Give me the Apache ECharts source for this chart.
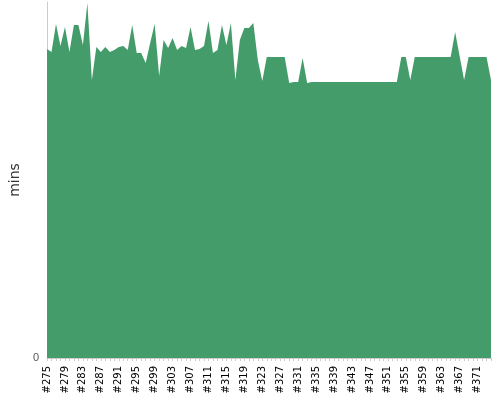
<!DOCTYPE html>
<html>
<head>
<meta charset="utf-8">
<script src="https://cdn.jsdelivr.net/npm/echarts@6/dist/echarts.min.js"></script>
<style>html,body{margin:0;padding:0}#chart{width:500px;height:400px}</style>
</head>
<body>
<div id="chart"></div>
<script>
// build #275 .. #374
const categories = []
for (let n = 275; n <= 374; n++) categories.push('#' + n)

// values
const mins = [
  309, 306, 334, 312, 331, 306, 333, 333, 313, 355,
  278, 311, 306, 311, 306, 308, 311, 312, 308, 333,
  305, 305, 295, 315, 334, 282, 318, 310, 320, 308,
  312, 310, 331, 308, 309, 312, 337, 305, 308, 333,
  313, 335, 278, 318, 330, 330, 335, 298, 277, 301,
  301, 301, 301, 301, 275, 276, 276, 300, 275, 276,
  276, 276, 276, 276, 276, 276, 276, 276, 276, 276,
  276, 276, 276, 276, 276, 276, 276, 276, 276, 301,
  301, 278, 301, 301, 301, 301, 301, 301, 301, 301,
  301, 326, 302, 278, 301, 301, 301, 301, 301, 278
]

const chart = echarts.init(document.getElementById('chart'))
chart.setOption({
  animation: false,
  grid: { left: 40, right: 9, top: 2, bottom: 42 },
  xAxis: {
    type: 'category',
    data: categories,
    boundaryGap: false,
    axisLine: { lineStyle: { color: '#ccc' } },
    axisTick: { alignWithLabel: true, interval: 0, length: 3, lineStyle: { color: '#ccc' } },
    axisLabel: { interval: 3, rotate: 90, fontSize: 10, color: '#000', fontFamily: 'DejaVu Sans' }
  },
  yAxis: {
    type: 'value',
    min: 0,
    max: 356,
    interval: 356,
    name: 'mins',
    nameLocation: 'middle',
    nameGap: 22,
    nameTextStyle: { fontSize: 14, color: '#333', fontFamily: 'DejaVu Sans' },
    axisLine: { show: true, lineStyle: { color: '#ccc' } },
    axisTick: { show: false },
    splitLine: { show: false },
    axisLabel: { formatter: v => (v === 0 ? '0' : ''), color: '#555', fontSize: 11 }
  },
  series: [{
    type: 'line',
    data: mins,
    symbol: 'none',
    lineStyle: { width: 0 },
    areaStyle: { color: '#459c6b', opacity: 1 }
  }]
})
</script>
</body>
</html>
